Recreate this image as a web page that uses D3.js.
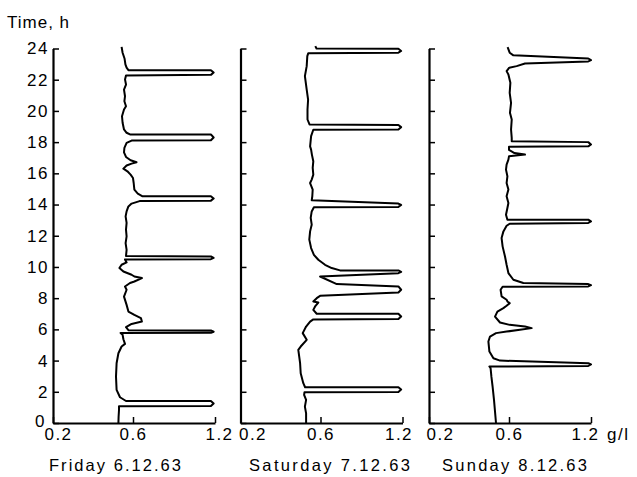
<!DOCTYPE html>
<html>
<head>
<meta charset="utf-8">
<script src="https://cdn.jsdelivr.net/npm/d3@7"></script>
<style>
  body { margin: 0; background: #fff; }
  text { font-family: "Liberation Sans", Arial, sans-serif; fill: #000; }
</style>
</head>
<body>
<svg id="chart" width="637" height="477"></svg>
<script>
// tick values
var hourTicks = [0, 2, 4, 6, 8, 10, 12, 14, 16, 18, 20, 22, 24];
var concTicks = [0.2, 0.6, 1.2];
var dayLabels = ["Friday 6.12.63", "Saturday 7.12.63", "Sunday 8.12.63"];

// [time h, concentration g/l] from bottom to top
var friday = [
  [0, 0.527], [0.4, 0.528], [0.83, 0.53], [1.07, 0.53],
  [1.09, 1.17], [1.25, 1.19], [1.41, 1.17], [1.41, 0.565],
  [1.65, 0.535], [2.12, 0.518], [2.97, 0.515], [3.83, 0.518], [4.47, 0.527], [4.9, 0.543],
  [5.07, 0.56], [5.37, 0.552], [5.65, 0.548], [5.77, 0.538],
  [5.78, 1.17], [5.85, 1.19], [5.93, 1.17], [5.95, 0.577],
  [6.14, 0.565], [6.35, 0.593], [6.5, 0.665], [6.72, 0.658], [6.93, 0.61], [7.14, 0.577],
  [7.57, 0.568], [8.1, 0.555], [8.54, 0.568], [8.75, 0.56], [8.97, 0.585], [9.07, 0.61],
  [9.29, 0.665], [9.39, 0.61], [9.5, 0.593], [9.71, 0.552], [9.93, 0.532], [10.14, 0.543],
  [10.29, 0.568], [10.48, 0.56],
  [10.5, 1.17], [10.58, 1.19], [10.67, 1.17], [10.7, 0.565],
  [11.1, 0.568], [11.53, 0.563], [11.96, 0.568], [12.39, 0.565], [12.82, 0.568], [13.24, 0.563],
  [13.56, 0.568], [13.88, 0.577], [14.06, 0.593], [14.22, 0.648],
  [14.25, 1.17], [14.39, 1.19], [14.53, 1.17], [14.53, 0.67],
  [14.7, 0.635], [14.96, 0.61], [15.38, 0.605], [15.7, 0.6], [15.92, 0.588], [16.13, 0.572],
  [16.3, 0.552], [16.5, 0.568], [16.62, 0.593], [16.71, 0.626], [16.84, 0.588], [17.05, 0.565],
  [17.35, 0.555], [17.63, 0.557], [17.95, 0.568], [18.1, 0.593],
  [18.12, 1.17], [18.3, 1.19], [18.49, 1.17], [18.49, 0.585],
  [18.6, 0.568], [18.81, 0.555], [19.24, 0.548], [19.66, 0.545], [20.09, 0.555], [20.3, 0.565],
  [20.62, 0.557], [20.94, 0.56], [21.37, 0.555], [21.69, 0.565], [22.02, 0.56], [22.27, 0.565],
  [22.31, 1.17], [22.46, 1.19], [22.61, 1.17], [22.61, 0.577],
  [22.77, 0.568], [22.98, 0.562], [23.34, 0.558], [23.73, 0.548], [24.1, 0.543]
];

var saturday = [
  [0, 0.528], [0.62, 0.528], [1.05, 0.522], [1.48, 0.528], [1.8, 0.518], [1.97, 0.52],
  [1.99, 1.17], [2.14, 1.19], [2.29, 1.17], [2.29, 0.523],
  [2.55, 0.514], [3.19, 0.501], [3.83, 0.498], [4.69, 0.489], [4.9, 0.501], [5.33, 0.531],
  [5.76, 0.511], [6.18, 0.528], [6.5, 0.548], [6.64, 0.564],
  [6.66, 1.17], [6.83, 1.19], [7.0, 1.17], [7.0, 0.581],
  [7.25, 0.564], [7.47, 0.573], [7.72, 0.589], [7.79, 0.564], [8.0, 0.581], [8.15, 0.598],
  [8.36, 1.17], [8.54, 1.19], [8.75, 1.17], [8.9, 0.719], [9.39, 0.598],
  [9.6, 1.17], [9.69, 1.19], [9.78, 1.17], [9.78, 0.743],
  [9.93, 0.682], [10.14, 0.633], [10.46, 0.589], [10.78, 0.567], [11.21, 0.553], [11.75, 0.544],
  [12.28, 0.548], [12.71, 0.556], [13.14, 0.551], [13.56, 0.556], [13.82, 0.567],
  [13.85, 1.17], [13.97, 1.19], [14.06, 1.17], [14.27, 0.556],
  [14.53, 0.559], [14.96, 0.561], [15.38, 0.548], [15.6, 0.556], [15.92, 0.564], [16.35, 0.561],
  [16.77, 0.564], [17.2, 0.557], [17.52, 0.553], [17.73, 0.548], [18.38, 0.553], [18.79, 0.564],
  [18.81, 1.17], [18.96, 1.19], [19.1, 1.17], [19.13, 0.545],
  [19.45, 0.535], [20.09, 0.535], [20.73, 0.538], [21.37, 0.531], [22.23, 0.522], [22.87, 0.531],
  [23.51, 0.534], [23.7, 0.539],
  [23.73, 1.17], [23.84, 1.19], [23.98, 1.17], [24.0, 0.58], [24.15, 0.574]
];

var sunday = [
  [0, 0.535], [1.48, 0.525], [2.33, 0.518], [2.97, 0.512], [3.51, 0.508], [3.62, 0.502],
  [3.66, 1.18], [3.75, 1.2], [3.83, 1.18], [4.0, 0.555],
  [4.15, 0.522], [4.58, 0.502], [5.22, 0.497], [5.54, 0.505], [5.76, 0.535], [5.86, 0.588],
  [5.97, 0.68], [6.08, 0.766], [6.18, 0.717], [6.29, 0.605], [6.44, 0.555], [6.82, 0.53],
  [7.14, 0.542], [7.36, 0.572], [7.51, 0.588], [7.68, 0.605], [7.79, 0.592], [7.9, 0.588],
  [8.11, 0.563], [8.54, 0.558], [8.73, 0.568],
  [8.75, 1.18], [8.83, 1.2], [8.9, 1.18], [8.97, 0.705],
  [9.18, 0.632], [9.61, 0.597], [10.14, 0.588], [10.67, 0.58], [11.32, 0.568], [11.85, 0.563],
  [12.28, 0.572], [12.64, 0.588], [12.77, 0.605],
  [12.82, 1.18], [12.92, 1.2], [13.03, 1.18], [13.03, 0.592],
  [13.35, 0.585], [13.78, 0.592], [14.1, 0.597], [14.53, 0.588], [14.96, 0.597], [15.38, 0.588],
  [15.81, 0.592], [16.24, 0.585], [16.56, 0.588], [16.88, 0.597], [17.09, 0.6], [17.2, 0.717],
  [17.3, 0.64], [17.5, 0.6], [17.71, 0.6],
  [17.73, 1.18], [17.85, 1.2], [18.0, 1.18], [18.06, 0.62],
  [18.27, 0.62], [18.81, 0.615], [19.45, 0.62], [19.88, 0.607], [20.52, 0.615], [21.16, 0.605],
  [21.8, 0.61], [22.34, 0.597], [22.55, 0.588], [22.77, 0.602], [22.87, 0.656], [23.04, 0.717],
  [23.17, 1.18], [23.25, 1.2], [23.36, 1.18], [23.56, 0.632],
  [23.73, 0.605], [24.09, 0.593]
];

var days = [friday, saturday, sunday];

// layout
var panelLeft = [53, 240.5, 429],
    panelWidth = 162,
    plotTop = 48.5,
    plotBottom = 423;
var labelX = [49, 249, 442],
    labelW = [132, 161, 145],
    firstTickShift = [5, 12, 11],   // "0.2" sits right of the axis in panels 2 and 3
    lastTickShift = [4, -4, -6];

var svg = d3.select("#chart");

var y = d3.scaleLinear().domain([0, 24]).range([plotBottom, plotTop]);
// the printed abscissa is stretched: 0.2-0.6 takes about as much room as 0.6-1.2
var x = d3.scaleLinear().domain(concTicks).range([0, 80, panelWidth]);

var line = d3.line()
    .x(function (d) { return x(d[1]); })
    .y(function (d) { return y(d[0]); });

days.forEach(function (data, i) {
    var g = svg.append("g")
        .attr("transform", "translate(" + panelLeft[i] + ",0)");

    var yAxis = d3.axisLeft(y)
        .tickValues(hourTicks)
        .tickSizeInner(-6)
        .tickSizeOuter(0)
        .tickPadding(4);
    if (i > 0) yAxis.tickFormat("");

    var xAxis = d3.axisBottom(x)
        .tickValues(concTicks)
        .tickSizeInner(-6)
        .tickSizeOuter(0)
        .tickPadding(5)
        .tickFormat(d3.format(".1f"));

    var ya = g.append("g").call(yAxis);
    var xa = g.append("g").attr("transform", "translate(0," + plotBottom + ")").call(xAxis);

    [ya, xa].forEach(function (a) {
        a.attr("font-family", null).attr("font-size", null);
        a.select(".domain").attr("stroke-width", 2.2);
        a.selectAll(".tick line").attr("stroke-width", 1.5);
        a.selectAll("text")
            .style("font-size", "17px")
            .style("letter-spacing", "1.5px");
    });

    // keep the "0" hour label clear of the "0.2" below it
    ya.selectAll(".tick text")
        .filter(function (d) { return d === 0; })
        .attr("dx", -3)
        .attr("y", -2);

    xa.selectAll(".tick text")
        .attr("dx", function (d) { return d === 0.2 ? firstTickShift[i] : (d === 1.2 ? lastTickShift[i] : 0); });

    g.append("path")
        .datum(data)
        .attr("d", line)
        .attr("fill", "none")
        .attr("stroke", "#000")
        .attr("stroke-width", 2)
        .attr("stroke-linejoin", "round");

    svg.append("text")
        .attr("x", labelX[i])
        .attr("y", 471)
        .attr("textLength", labelW[i])
        .attr("lengthAdjust", "spacing")
        .style("font-size", "16.5px")
        .text(dayLabels[i]);
});

svg.append("text")
    .attr("x", 7)
    .attr("y", 28)
    .style("font-size", "17px")
    .style("letter-spacing", "1px")
    .text("Time, h");

svg.append("text")
    .attr("x", panelLeft[2] + panelWidth + 16)
    .attr("y", plotBottom + 17)
    .style("font-size", "17px")
    .style("letter-spacing", "1.5px")
    .text("g/l");
</script>
</body>
</html>
